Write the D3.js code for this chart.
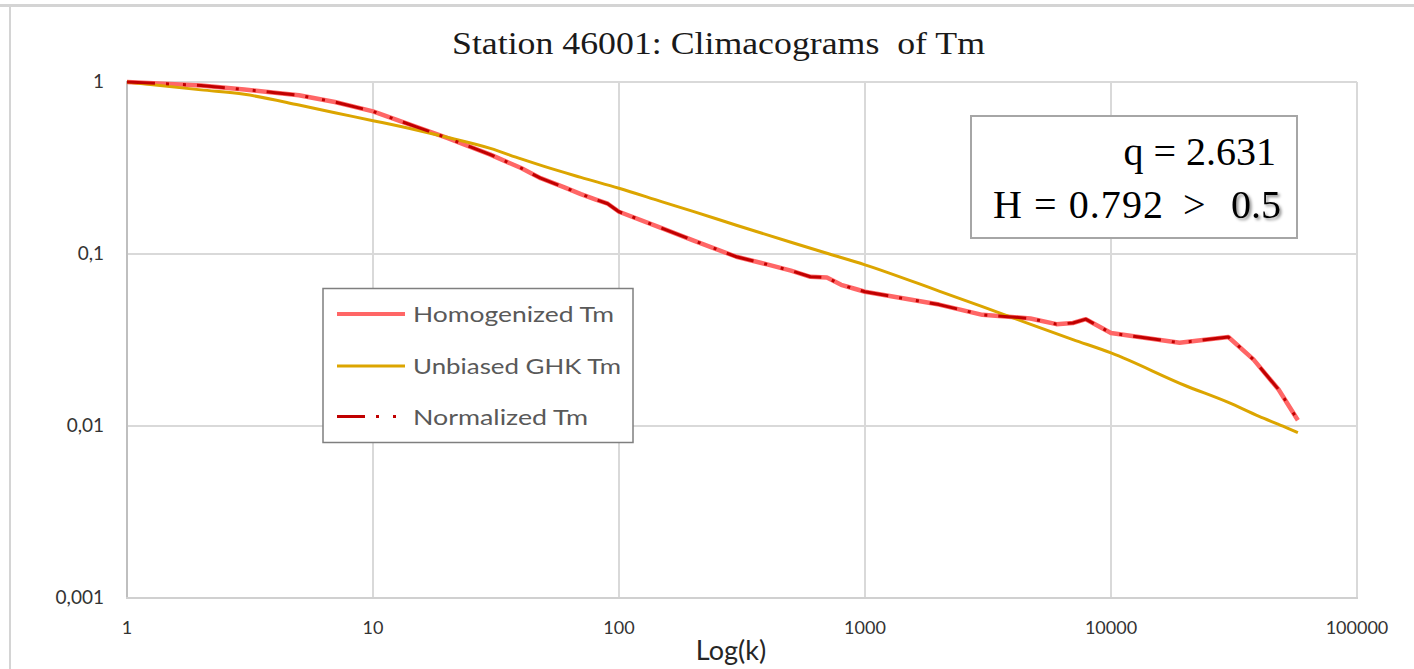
<!DOCTYPE html>
<html>
<head>
<meta charset="utf-8">
<script src="https://cdn.jsdelivr.net/npm/d3@7"></script>
<style>
  html, body { margin: 0; padding: 0; background: #fff; }
  svg { display: block; }
  text { white-space: pre; }
</style>
</head>
<body>
<svg id="chart" width="1414" height="669"></svg>
<script>
// Aggregation scale k
const kHomog = [1, 2, 3, 4, 5, 7, 10, 15, 20, 30, 40, 48, 60, 70, 80, 90, 100, 150, 200, 300, 400, 500, 600, 700, 800, 900, 1000, 2000, 3000, 4700, 6000, 7000, 7900, 10000, 13000, 19000, 30000, 38000, 48000, 57500];
// Homogenized Tm climacogram
const homogenized = [1, 0.955, 0.905, 0.866, 0.838, 0.765, 0.675, 0.549, 0.473, 0.378, 0.316, 0.276, 0.244, 0.223, 0.208, 0.196, 0.176, 0.141, 0.120, 0.0964, 0.087, 0.080, 0.0737, 0.0729, 0.0662, 0.063, 0.0603, 0.0508, 0.0443, 0.0422, 0.0391, 0.0397, 0.0418, 0.0347, 0.0329, 0.0305, 0.0329, 0.0243, 0.0163, 0.0108];
// Normalized Tm climacogram (same scales)
const normalized = [1, 0.955, 0.905, 0.866, 0.838, 0.765, 0.675, 0.549, 0.473, 0.378, 0.316, 0.276, 0.244, 0.223, 0.208, 0.196, 0.176, 0.141, 0.120, 0.0964, 0.087, 0.080, 0.0737, 0.0729, 0.0662, 0.063, 0.0603, 0.0508, 0.0443, 0.0422, 0.0391, 0.0397, 0.0418, 0.0347, 0.0329, 0.0305, 0.0329, 0.0243, 0.0163, 0.0108];
// Unbiased GHK model
const kGHK = [1, 2, 3, 5, 7, 10, 15, 20, 30, 40, 50, 70, 100, 150, 200, 300, 500, 700, 1000, 2000, 3000, 5000, 7000, 10000, 20000, 30000, 40000, 50000, 57500];
const unbiasedGHK = [1, 0.90, 0.848, 0.735, 0.663, 0.596, 0.526, 0.477, 0.411, 0.357, 0.322, 0.279, 0.241, 0.201, 0.177, 0.147, 0.117, 0.101, 0.0865, 0.0609, 0.0494, 0.0378, 0.0318, 0.0266, 0.0172, 0.0137, 0.01137, 0.00998, 0.00914];

const xTicks = [1, 10, 100, 1000, 10000, 100000];
const xTickLabels = ["1", "10", "100", "1000", "10000", "100000"];
const yTicks = [0.001, 0.01, 0.1, 1];
const yTickLabels = ["0,001", "0,01", "0,1", "1"];
const seriesNames = ["Homogenized Tm", "Unbiased GHK Tm", "Normalized Tm"];
const statQ = "q = 2.631";
const statH = ["H = 0.792", ">", "0.5"];

const svg = d3.select("#chart");
const x = d3.scaleLog().domain([1, 100000]).range([127, 1357]);
const y = d3.scaleLog().domain([0.001, 1]).range([598, 82]);

const sansFont = "Lato, 'Open Sans', sans-serif";
const serifFont = "'Liberation Serif', 'Times New Roman', serif";
const labelColor = "#595959";

// outer frame edges
svg.append("rect").attr("x", 0).attr("y", 4).attr("width", 1414).attr("height", 3).attr("fill", "#d4d4d4");
svg.append("rect").attr("x", 9).attr("y", 7).attr("width", 2).attr("height", 662).attr("fill", "#d4d4d4");

// shadow for the threshold value
const defs = svg.append("defs");
defs.append("filter").attr("id", "soft").attr("x", "-20%").attr("y", "-20%").attr("width", "150%").attr("height", "150%")
  .append("feDropShadow").attr("dx", 2).attr("dy", 2).attr("stdDeviation", 1.5)
  .attr("flood-color", "#000").attr("flood-opacity", 0.45);

// title
svg.append("text")
  .attr("x", 452).attr("y", 54)
  .attr("textLength", 533).attr("lengthAdjust", "spacingAndGlyphs")
  .attr("font-family", serifFont).attr("font-size", 32).attr("fill", "#1a1a1a")
  .text("Station 46001: Climacograms  of Tm");

// grid
const grid = svg.append("g");
grid.selectAll("line.v").data(xTicks.slice(1)).join("line")
  .attr("x1", d => x(d)).attr("x2", d => x(d))
  .attr("y1", y(1)).attr("y2", y(0.001))
  .attr("stroke", "#d9d9d9").attr("stroke-width", 2);
grid.selectAll("line.h").data(yTicks.slice(1)).join("line")
  .attr("x1", x(1)).attr("x2", x(100000))
  .attr("y1", d => y(d)).attr("y2", d => y(d))
  .attr("stroke", "#d9d9d9").attr("stroke-width", 2);

// axes lines
svg.append("line").attr("x1", x(1)).attr("x2", x(1)).attr("y1", y(1) - 1).attr("y2", y(0.001) + 1)
  .attr("stroke", "#bfbfbf").attr("stroke-width", 2);
svg.append("line").attr("x1", x(1) - 1).attr("x2", x(100000) + 1).attr("y1", y(0.001)).attr("y2", y(0.001))
  .attr("stroke", "#d0d0d0").attr("stroke-width", 2);

// tick labels
svg.selectAll("text.xt").data(xTicks).join("text")
  .attr("class", "xt")
  .attr("x", d => x(d)).attr("y", 634)
  .attr("text-anchor", "middle")
  .attr("font-family", sansFont).attr("font-size", 18).attr("fill", "#333")
  .text((d, i) => xTickLabels[i]);
svg.selectAll("text.yt").data(yTicks).join("text")
  .attr("class", "yt")
  .attr("x", 104).attr("y", d => y(d) + 6)
  .attr("text-anchor", "end")
  .attr("font-family", sansFont).attr("font-size", 19).attr("fill", "#333")
  .text((d, i) => yTickLabels[i]);

// axis title
svg.append("text")
  .attr("x", 731).attr("y", 660)
  .attr("text-anchor", "middle")
  .attr("font-family", sansFont).attr("font-size", 27).attr("fill", "#262626")
  .text("Log(k)");

// series
const line = d3.line().x(d => x(d[0])).y(d => y(d[1]));
const smooth = d3.line().curve(d3.curveMonotoneX).x(d => x(d[0])).y(d => y(d[1]));

const plot = svg.append("g");
plot.append("path")
  .datum(kHomog.map((k, i) => [k, homogenized[i]]))
  .attr("d", line).attr("fill", "none")
  .attr("stroke", "#ff6666").attr("stroke-width", 4.5).attr("stroke-linejoin", "round");
plot.append("path")
  .datum(kGHK.map((k, i) => [k, unbiasedGHK[i]]))
  .attr("d", smooth).attr("fill", "none")
  .attr("stroke", "#dca500").attr("stroke-width", 3).attr("stroke-linejoin", "round");
plot.append("path")
  .datum(kHomog.map((k, i) => [k, normalized[i]]))
  .attr("d", line).attr("fill", "none")
  .attr("stroke", "#c00000").attr("stroke-width", 3).attr("stroke-linejoin", "round")
  .attr("stroke-dasharray", "28,11,3,14,3,11");

// legend
const legend = svg.append("g");
legend.append("rect").attr("x", 323).attr("y", 288.5).attr("width", 310).attr("height", 154)
  .attr("fill", "#fff").attr("stroke", "#7f7f7f").attr("stroke-width", 1.5);
const legendStyles = [
  { color: "#ff6666", width: 4, dash: null, textW: 201 },
  { color: "#dca500", width: 3, dash: null, textW: 208 },
  { color: "#c00000", width: 3, dash: "28,11,3,14,3,11", textW: 175 }
];
const rowY = [314, 366, 416.5];
seriesNames.forEach((name, i) => {
  const s = legendStyles[i];
  const l = legend.append("line")
    .attr("x1", 337).attr("x2", 405).attr("y1", rowY[i]).attr("y2", rowY[i])
    .attr("stroke", s.color).attr("stroke-width", s.width);
  if (s.dash) l.attr("stroke-dasharray", s.dash);
  legend.append("text")
    .attr("x", 413).attr("y", rowY[i] + 8)
    .attr("textLength", s.textW).attr("lengthAdjust", "spacingAndGlyphs")
    .attr("font-family", sansFont).attr("font-size", 22).attr("fill", labelColor)
    .text(name);
});

// statistics box
const stats = svg.append("g");
stats.append("rect").attr("x", 971).attr("y", 116).attr("width", 326).attr("height", 122)
  .attr("fill", "#fff").attr("stroke", "#a6a6a6").attr("stroke-width", 2);
stats.append("text")
  .attr("x", 1276).attr("y", 165).attr("text-anchor", "end")
  .attr("font-family", serifFont).attr("font-size", 40).attr("fill", "#000")
  .text(statQ);
const hx = [993, 1183, 1231];
statH.forEach((t, i) => {
  const el = stats.append("text")
    .attr("x", hx[i]).attr("y", 218)
    .attr("font-family", serifFont).attr("font-size", 40).attr("fill", "#000")
    .text(t);
  if (i === 0) el.attr("textLength", 170).attr("lengthAdjust", "spacing");
  if (i === 2) el.attr("filter", "url(#soft)");
});
</script>
</body>
</html>
